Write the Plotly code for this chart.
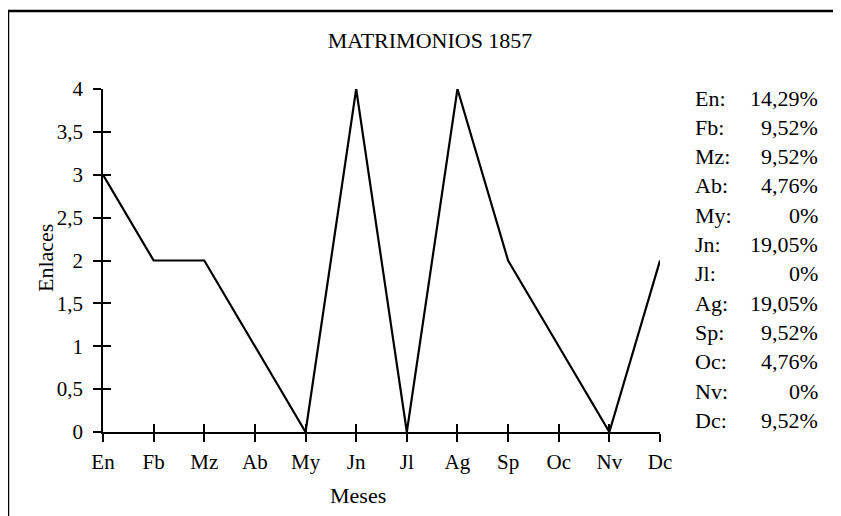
import plotly.graph_objects as go

meses = ["En", "Fb", "Mz", "Ab", "My", "Jn", "Jl", "Ag", "Sp", "Oc", "Nv", "Dc"]
enlaces = [3, 2, 2, 1, 0, 4, 0, 4, 2, 1, 0, 2]
porcentajes = ["14,29%", "9,52%", "9,52%", "4,76%", "0%", "19,05%",
               "0%", "19,05%", "9,52%", "4,76%", "0%", "9,52%"]

FONT = "Liberation Serif, Times New Roman, serif"
W, H = 841, 516

# plot area in figure pixels (page adds an 8px body margin)
L, R, T, B = 95, 189, 81, 92
PW, PH = W - L - R, H - T - B

fig = go.Figure()
fig.add_trace(go.Scatter(
    x=list(range(len(meses))), y=enlaces, mode="lines",
    line=dict(color="black", width=2.2), showlegend=False, hoverinfo="skip"
))
# invisible trace on the overlay axes (inside half of the crossing ticks)
fig.add_trace(go.Scatter(
    x=[0], y=[0], xaxis="x2", yaxis="y2", mode="markers",
    marker=dict(opacity=0), showlegend=False, hoverinfo="skip"
))

axis_common = dict(showgrid=False, zeroline=False, showline=True,
                   linecolor="black", linewidth=1.5, tickcolor="black",
                   tickwidth=1.5, ticklen=8, automargin=False)

fig.update_layout(
    width=W, height=H,
    margin=dict(l=L, r=R, t=T, b=B),
    paper_bgcolor="white", plot_bgcolor="white",
    separators=",.",
    font=dict(family=FONT, size=21, color="black"),
    title=dict(text="MATRIMONIOS 1857", x=422 / W, xanchor="center",
               y=1 - 32 / H, yanchor="middle", font=dict(size=22)),
    xaxis=dict(range=[0, 11], tickmode="array", tickvals=list(range(12)),
               ticktext=meses, ticks="outside", ticklabelstandoff=2,
               **axis_common),
    yaxis=dict(range=[0, 4], dtick=0.5, ticks="outside", ticklabelstandoff=6,
               **axis_common),
    xaxis2=dict(overlaying="x", matches="x", range=[0, 11], tickmode="array",
                tickvals=list(range(12)), ticks="inside", showticklabels=False,
                **axis_common),
    yaxis2=dict(overlaying="y", range=[0, 4], dtick=0.5, ticks="inside",
                showticklabels=False, **axis_common),
)

# axis titles (placed where the original has them)
fig.add_annotation(x=(350 - L) / PW, xref="paper", y=(H - B - 487) / PH, yref="paper",
                   text="Meses", showarrow=False, xanchor="center", yanchor="middle",
                   font=dict(size=22))
fig.add_annotation(x=(37 - L) / PW, xref="paper", y=(H - B - 250) / PH, yref="paper",
                   text="Enlaces", textangle=-90, showarrow=False,
                   xanchor="center", yanchor="middle", font=dict(size=22))

# outer frame (clipped by the page on the right and bottom)
fig.add_shape(type="rect", xref="paper", yref="paper",
              x0=(0 - L) / PW, x1=1.5, y0=-0.5, y1=1 + (T - 3) / PH,
              line=dict(color="black", width=2.5), layer="below")

for i, (m, p) in enumerate(zip(meses, porcentajes)):
    ypix = 90 + i * 29.3
    yp = (H - B - ypix) / PH
    fig.add_annotation(x=(685 - L) / PW, xref="paper", y=yp, yref="paper",
                       text=m + ":", showarrow=False, xanchor="left",
                       yanchor="middle", font=dict(size=22))
    fig.add_annotation(x=(812 - L) / PW, xref="paper", y=yp, yref="paper",
                       text=p, showarrow=False, xanchor="right",
                       yanchor="middle", font=dict(size=22))

fig.write_html("out.html")
